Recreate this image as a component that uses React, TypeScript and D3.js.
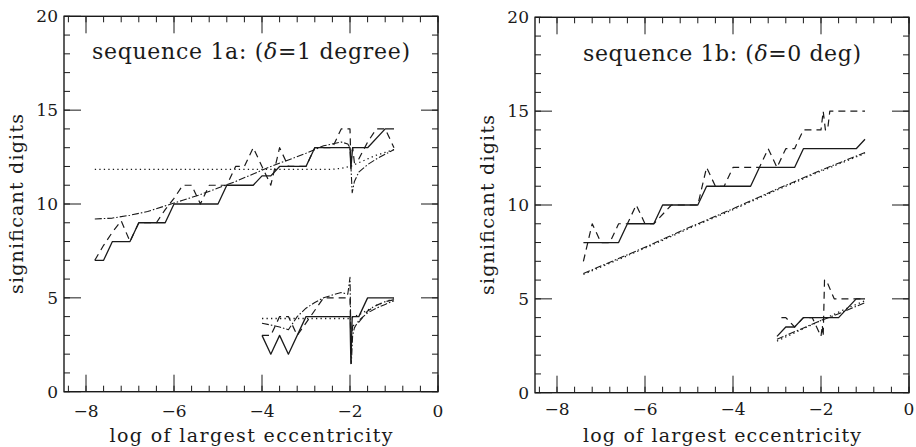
import React from "react";
import * as d3 from "d3";

type Pt = [number, number];

// ---- sequence 1a (delta = 1 degree) ----
const aSolidHigh: Pt[] = [
  [-7.8, 7], [-7.6, 7], [-7.4, 8], [-7.0, 8], [-6.8, 9], [-6.2, 9], [-6.0, 10],
  [-5.0, 10], [-4.8, 11], [-4.2, 11], [-4.0, 11.5], [-3.8, 11.5], [-3.6, 12],
  [-3.0, 12], [-2.8, 13], [-2.0, 13], [-1.98, 11.9], [-1.94, 13], [-1.6, 13],
  [-1.2, 14], [-1.0, 14],
];
const aDashHigh: Pt[] = [
  [-7.8, 7], [-7.6, 7.8], [-7.4, 8.5], [-7.2, 9.1], [-7.0, 8], [-6.8, 9], [-6.4, 9],
  [-6.2, 9.7], [-6.0, 10.3], [-5.8, 11], [-5.6, 11], [-5.4, 10], [-5.2, 11], [-4.8, 11],
  [-4.6, 12], [-4.4, 12], [-4.2, 13], [-3.8, 11], [-3.6, 13], [-3.4, 12], [-3.0, 12],
  [-2.8, 13], [-2.4, 13], [-2.2, 14], [-2.0, 14], [-1.98, 12.2], [-1.94, 13],
  [-1.9, 12.2], [-1.8, 12.4], [-1.6, 13.3], [-1.4, 14], [-1.2, 14], [-1.0, 13],
];
const aDashDotHigh: Pt[] = [
  [-7.8, 9.2], [-7.4, 9.25], [-7.0, 9.4], [-6.6, 9.6], [-6.2, 9.9], [-5.8, 10.2],
  [-5.4, 10.5], [-5.0, 10.85], [-4.6, 11.2], [-4.2, 11.6], [-3.8, 12.0], [-3.4, 12.35],
  [-3.0, 12.7], [-2.6, 13.1], [-2.2, 13.3], [-2.05, 13.2], [-2.0, 13.0], [-1.95, 10.6],
  [-1.9, 11.2], [-1.8, 11.7], [-1.6, 12.1], [-1.4, 12.4], [-1.2, 12.65], [-1.0, 12.9],
];
const aDotHigh: Pt[] = [
  [-7.8, 11.85], [-2.4, 11.85], [-2.2, 11.9], [-2.0, 12.0], [-1.9, 12.1], [-1.6, 12.4],
  [-1.4, 12.6], [-1.2, 12.75], [-1.0, 12.9],
];
const aSolidLow: Pt[] = [
  [-4.0, 3], [-3.8, 2], [-3.6, 3], [-3.4, 2], [-3.0, 4], [-2.0, 4], [-1.98, 1.5],
  [-1.95, 4], [-1.8, 4], [-1.6, 5], [-1.0, 5],
];
const aDashLow: Pt[] = [
  [-4.0, 3], [-3.8, 3], [-3.6, 4], [-3.4, 4], [-3.2, 3], [-2.6, 5], [-2.0, 5],
  [-1.98, 2.5], [-1.94, 3.5], [-1.8, 3.7], [-1.6, 4.3], [-1.4, 4.6], [-1.2, 4.8], [-1.0, 4.9],
];
const aDashDotLow: Pt[] = [
  [-4.0, 3.65], [-3.8, 3.55], [-3.6, 3.45], [-3.4, 3.3], [-3.2, 4.0], [-3.0, 4.45],
  [-2.8, 4.75], [-2.6, 5.0], [-2.4, 5.15], [-2.2, 5.28], [-2.05, 5.2], [-2.0, 6.1],
  [-1.97, 1.5], [-1.94, 3.0], [-1.9, 3.4], [-1.8, 3.8], [-1.7, 4.0], [-1.6, 4.2],
  [-1.4, 4.45], [-1.2, 4.65], [-1.0, 4.85],
];
const aDotLow: Pt[] = [
  [-4.0, 3.9], [-2.0, 3.9], [-1.8, 4.1], [-1.6, 4.35], [-1.4, 4.6], [-1.2, 4.8], [-1.0, 4.95],
];

// ---- sequence 1b (delta = 0 deg) ----
const bSolidHigh: Pt[] = [
  [-7.4, 8], [-6.6, 8], [-6.4, 9], [-5.8, 9], [-5.6, 10], [-4.8, 10], [-4.6, 11],
  [-3.6, 11], [-3.4, 12], [-2.6, 12], [-2.4, 13], [-1.2, 13], [-1.0, 13.5],
];
const bDashHigh: Pt[] = [
  [-7.4, 7], [-7.2, 9], [-7.0, 8], [-6.8, 8], [-6.6, 9], [-6.4, 9], [-6.2, 10],
  [-6.0, 9], [-5.8, 9], [-5.4, 10], [-4.8, 10], [-4.6, 12], [-4.4, 11], [-4.2, 11],
  [-4.0, 12], [-3.4, 12], [-3.2, 13], [-3.0, 12], [-2.8, 13], [-2.6, 13], [-2.4, 14],
  [-2.0, 14], [-1.95, 15], [-1.9, 14], [-1.85, 14], [-1.8, 15], [-1.0, 15],
];
const bDashDotHigh: Pt[] = [
  [-7.4, 6.35], [-6.0, 7.75], [-5.0, 8.8], [-4.0, 9.8], [-3.0, 10.85], [-2.0, 11.85], [-1.0, 12.8],
];
const bDotHigh: Pt[] = [
  [-7.4, 6.3], [-6.0, 7.7], [-5.0, 8.75], [-4.0, 9.75], [-3.0, 10.8], [-2.0, 11.8], [-1.0, 12.75],
];
const bSolidLow: Pt[] = [
  [-3.0, 3], [-2.8, 3.5], [-2.6, 3.5], [-2.4, 4], [-1.6, 4], [-1.2, 5], [-1.0, 5],
];
const bDashLow: Pt[] = [
  [-2.9, 4], [-2.8, 4], [-2.6, 3.5], [-2.4, 4], [-2.2, 4], [-2.0, 3], [-1.97, 3.6],
  [-1.95, 3.0], [-1.92, 6], [-1.88, 6], [-1.7, 5], [-1.0, 5],
];
const bDashDotLow: Pt[] = [
  [-3.0, 2.85], [-2.5, 3.35], [-2.0, 3.85], [-1.5, 4.3], [-1.0, 4.8],
];
const bDotLow: Pt[] = [
  [-3.0, 2.75], [-2.5, 3.3], [-2.0, 3.85], [-1.5, 4.4], [-1.0, 4.9],
];

const xMajor = [-8, -6, -4, -2, 0];
const xLabels = ["\u22128", "\u22126", "\u22124", "\u22122", "0"];
const yMajor = [0, 5, 10, 15, 20];
const yLabels = ["0", "5", "10", "15", "20"];

const FONT = "'DejaVu Serif', 'Liberation Serif', serif";
const INK = "#1a1a1a";

const lineStyles: Record<string, { dash?: string; w: number }> = {
  solid: { w: 1.3 },
  dashed: { dash: "7 5", w: 1.2 },
  dotted: { dash: "1.3 3.2", w: 1.3 },
  dashdot: { dash: "7 2 1.5 2", w: 1.1 },
};

type Series = { pts: Pt[]; kind: string };

type PanelProps = {
  x0: number;
  x1: number;
  y0: number;
  y1: number;
  title: string[];
  titleWidth: number;
  titleY: number;
  tickY: number;
  xTitleWidth: number;
  series: Series[];
};

function Panel({ x0, x1, y0, y1, title, titleWidth, titleY, tickY, xTitleWidth, series }: PanelProps) {
  const x = d3.scaleLinear().domain([-8.5, 0]).range([x0, x1]);
  const y = d3.scaleLinear().domain([0, 20]).range([y1, y0]);
  const line = d3
    .line<Pt>()
    .x((d) => x(d[0]))
    .y((d) => y(d[1]));

  const xMinor = d3.range(-8.4, 0.01, 0.4);
  const yMinor = d3.range(0, 20.01, 1);
  const cx = (x0 + x1) / 2;
  const cy = (y0 + y1) / 2;

  return (
    <g>
      {/* ticks on all four sides, pointing inward */}
      <g stroke={INK} strokeWidth={1}>
        {xMinor.map((v, i) => (
          <g key={"xm" + i}>
            <line x1={x(v)} x2={x(v)} y1={y1} y2={y1 - 6} />
            <line x1={x(v)} x2={x(v)} y1={y0} y2={y0 + 6} />
          </g>
        ))}
        {xMajor.map((v, i) => (
          <g key={"xM" + i}>
            <line x1={x(v)} x2={x(v)} y1={y1} y2={y1 - 17} />
            <line x1={x(v)} x2={x(v)} y1={y0} y2={y0 + 17} />
          </g>
        ))}
        {yMinor.map((v, i) => (
          <g key={"ym" + i}>
            <line x1={x0} x2={x0 + 6} y1={y(v)} y2={y(v)} />
            <line x1={x1} x2={x1 - 6} y1={y(v)} y2={y(v)} />
          </g>
        ))}
        {yMajor.map((v, i) => (
          <g key={"yM" + i}>
            <line x1={x0} x2={x0 + 17} y1={y(v)} y2={y(v)} />
            <line x1={x1} x2={x1 - 17} y1={y(v)} y2={y(v)} />
          </g>
        ))}
      </g>
      <rect x={x0} y={y0} width={x1 - x0} height={y1 - y0} fill="none" stroke={INK} strokeWidth={1.4} />

      {/* data */}
      {series.map((s, i) => {
        const st = lineStyles[s.kind];
        return (
          <path
            key={"s" + i}
            d={line(s.pts) || ""}
            fill="none"
            stroke={INK}
            strokeWidth={st.w}
            strokeDasharray={st.dash}
            strokeLinejoin="round"
          />
        );
      })}

      {/* tick labels */}
      <g fontFamily={FONT} fontSize={17} fill={INK}>
        {xMajor.map((v, i) => (
          <text key={"xl" + i} x={x(v)} y={tickY} textAnchor="middle">
            {xLabels[i]}
          </text>
        ))}
        {yMajor.map((v, i) => (
          <text key={"yl" + i} x={x0 - 6} y={y(v) + 6} textAnchor="end">
            {yLabels[i]}
          </text>
        ))}
      </g>

      {/* titles */}
      <text
        x={cx}
        y={titleY}
        textAnchor="middle"
        fontFamily={FONT}
        fontSize={22}
        fill={INK}
        textLength={titleWidth}
        lengthAdjust="spacing"
      >
        {title[0]}
        <tspan fontStyle="italic">{"\u03b4"}</tspan>
        {title[1]}
      </text>
      <text
        x={cx}
        y={442}
        textAnchor="middle"
        fontFamily={FONT}
        fontSize={19}
        fill={INK}
        textLength={xTitleWidth}
        lengthAdjust="spacing"
      >
        log of largest eccentricity
      </text>
      <text
        transform={`translate(${x0 - 41},${cy}) rotate(-90)`}
        textAnchor="middle"
        fontFamily={FONT}
        fontSize={19}
        fill={INK}
        textLength={180}
        lengthAdjust="spacing"
      >
        significant digits
      </text>
    </g>
  );
}

export default function App() {
  return (
    <svg
      width={916}
      height={447}
      style={{ position: "absolute", left: 0, top: 0, background: "#fff" }}
    >
      <rect width={916} height={447} fill="#fff" />
      <Panel
        x0={64}
        x1={438}
        y0={16.3}
        y1={391.7}
        title={["sequence 1a: (", "=1 degree)"]}
        titleWidth={318}
        titleY={59}
        tickY={417}
        xTitleWidth={283}
        series={[
          { pts: aSolidHigh, kind: "solid" },
          { pts: aDashHigh, kind: "dashed" },
          { pts: aDashDotHigh, kind: "dashdot" },
          { pts: aDotHigh, kind: "dotted" },
          { pts: aSolidLow, kind: "solid" },
          { pts: aDashLow, kind: "dashed" },
          { pts: aDashDotLow, kind: "dashdot" },
          { pts: aDotLow, kind: "dotted" },
        ]}
      />
      <Panel
        x0={535}
        x1={909}
        y0={17.3}
        y1={392.7}
        title={["sequence 1b: (", "=0 deg)"]}
        titleWidth={278}
        titleY={60.5}
        tickY={415}
        xTitleWidth={278}
        series={[
          { pts: bSolidHigh, kind: "solid" },
          { pts: bDashHigh, kind: "dashed" },
          { pts: bDashDotHigh, kind: "dashdot" },
          { pts: bDotHigh, kind: "dotted" },
          { pts: bSolidLow, kind: "solid" },
          { pts: bDashLow, kind: "dashed" },
          { pts: bDashDotLow, kind: "dashdot" },
          { pts: bDotLow, kind: "dotted" },
        ]}
      />
    </svg>
  );
}
